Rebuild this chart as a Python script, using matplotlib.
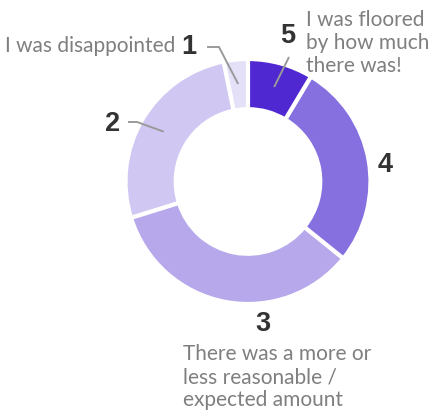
import matplotlib
matplotlib.use("Agg")
import matplotlib.pyplot as plt
import numpy as np

# Survey answers, share of responses (%)
ratings = ["1", "2", "3", "4", "5"]
shares = [3.2, 26.6, 34.4, 27.2, 8.6]
colors = ["#e4e0f8", "#d0c8f3", "#b7a8ec", "#8670e0", "#5028d2"]

W, H = 434, 415
CX, CY, R = 248, 181.5, 122.5


def px(x, y):
    """pixel position -> data coords (pie radius = 1)"""
    return (x - CX) / R, (CY - y) / R


fig = plt.figure(figsize=(W / 100, H / 100), dpi=100)
ax = fig.add_axes([0, 0, 1, 1])
x0, y1 = px(0, 0)
x1, y0 = px(W, H)
ax.axis("off")

wedges, _ = ax.pie(
    shares,
    colors=colors,
    startangle=90,
    counterclock=True,
    radius=1,
    wedgeprops=dict(width=0.41, edgecolor="white", linewidth=3),
)
ax.set_xlim(x0, x1)
ax.set_ylim(y0, y1)
ax.set_aspect("auto")

num_kw = dict(fontsize=19.5, fontweight="bold", color="#333333", family="Liberation Sans",
              ha="center", va="center")
txt_kw = dict(fontsize=15, color="#7f7f7f", family="Lato")
line_kw = dict(color="#9a9a9a", lw=1.4, solid_capstyle="butt")


def mid_point(w, r=0.8):
    a = np.deg2rad((w.theta1 + w.theta2) / 2)
    return r * np.cos(a), r * np.sin(a)


# 1
mx, my = mid_point(wedges[0])
pts = [px(207, 47), px(219, 47), (mx, my)]
ax.plot(*zip(*pts), **line_kw)
ax.text(*px(189, 47), ratings[0], **num_kw)
ax.text(*px(175, 46), "I was disappointed", ha="right", va="center", **txt_kw)

# 2
mx, my = mid_point(wedges[1])
pts = [px(128, 122), px(137, 122), (mx, my)]
ax.plot(*zip(*pts), **line_kw)
ax.text(*px(113, 124), ratings[1], **num_kw)

# 3
ax.text(*px(263, 324), ratings[2], **num_kw)
ax.text(*px(183, 377), "There was a more or\nless reasonable /\nexpected amount",
        ha="left", va="center", linespacing=1.2, **txt_kw)

# 4
ax.text(*px(385, 165), ratings[3], **num_kw)

# 5
mx, my = mid_point(wedges[4])
pts = [px(289, 57), (mx, my)]
ax.plot(*zip(*pts), **line_kw)
ax.text(*px(288, 36), ratings[4], **num_kw)
ax.text(*px(306, 43), "I was floored\nby how much\nthere was!",
        ha="left", va="center", linespacing=1.2, **txt_kw)

fig.savefig("out.png", dpi=100)
